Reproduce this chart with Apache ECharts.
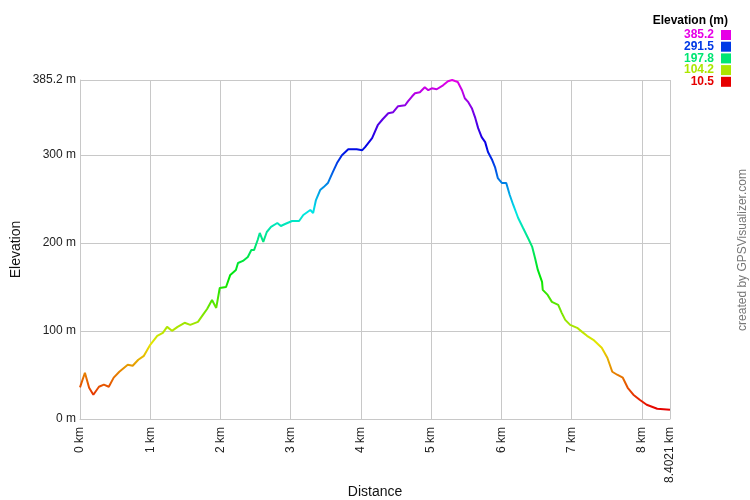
<!DOCTYPE html>
<html>
<head>
<meta charset="utf-8">
<script src="https://cdn.jsdelivr.net/npm/echarts@6/dist/echarts.min.js"></script>
<style>
html,body{margin:0;padding:0;background:#fff;}
#chart{width:750px;height:500px;}
</style>
</head>
<body>
<div id="chart"></div>
<script>
// Distance along track (km)
const distanceKm = [0.00,0.07,0.13,0.19,0.27,0.34,0.41,0.48,0.56,0.68,0.75,0.83,0.91,1.00,1.10,1.18,1.24,1.31,1.39,1.49,1.57,1.68,1.75,1.81,1.88,1.94,1.99,2.08,2.14,2.22,2.25,2.32,2.39,2.44,2.48,2.53,2.56,2.61,2.66,2.72,2.81,2.86,2.92,3.02,3.12,3.18,3.28,3.32,3.36,3.42,3.47,3.53,3.60,3.66,3.73,3.82,3.94,4.02,4.06,4.16,4.24,4.31,4.39,4.46,4.53,4.63,4.67,4.73,4.77,4.84,4.91,4.96,5.01,5.08,5.17,5.24,5.30,5.34,5.38,5.44,5.48,5.53,5.58,5.63,5.67,5.72,5.77,5.81,5.87,5.91,5.95,6.01,6.07,6.12,6.17,6.24,6.31,6.38,6.44,6.48,6.52,6.58,6.59,6.66,6.72,6.81,6.86,6.91,6.98,7.08,7.15,7.22,7.31,7.43,7.51,7.58,7.65,7.73,7.80,7.88,7.97,8.07,8.22,8.4021];
// Elevation (m)
const elevationM = [36,52.6,35.5,27.6,36.7,39,36.7,47,53.7,61.6,60.5,67.3,71.8,84.3,94.5,97.9,104.7,100.2,104.7,109.3,107,110.4,118.3,125,135.3,126.2,148.9,150,163.7,169.4,177.3,179.6,184.1,192.1,192.1,203.4,211.4,201.2,212.5,218.2,222.7,219.3,221.6,225,225,231.8,237.5,234.1,248.8,260.1,263.5,268.1,280.5,290.8,299.8,306.6,306.6,305.5,308.9,319.1,333.8,340.6,347.4,348.6,355.4,356.5,361,366.7,370.1,371.3,377,373.6,375.8,374.7,379.2,383.8,385.2,384,382.9,373.6,364.5,360,353.2,341.8,330.5,320.3,314.6,303.3,294.2,286.3,273.8,268.1,268.1,254.5,243.2,228.4,217,205.7,195.5,183,169.4,155.8,146.7,141,133.1,129.7,120.6,112.6,107,103.6,99,94.5,90,80.9,69.6,53.7,50.3,46.9,35.5,27.6,21.9,16.2,11.7,10.5];
// Legend (colour key) labels
const legendLabels = ['385.2','291.5','197.8','104.2','10.5'];
const legendColors = ['#e600e6','#0039e6','#00e673','#ace600','#e60000'];
const elevMin = 10.5, elevMax = 385.2, distMax = 8.4021;

const chart = echarts.init(document.getElementById('chart'), null, {renderer:'canvas'});
const font = 'Arial, "Liberation Sans", sans-serif';

const graphics = [
  {type:'text', right: 750-728, top: 15, style:{text:'Elevation (m)', font:'bold 12px ' + font, fill:'#000', textAlign:'right'}}
];
legendLabels.forEach((lab, i) => {
  const cy = 35 + i * 11.7;
  graphics.push({type:'text', x: 714, y: cy, style:{text: lab, font:'bold 12px ' + font, fill: legendColors[i], textAlign:'right', textVerticalAlign:'middle'}});
  graphics.push({type:'rect', shape:{x:721, y:cy-5, width:10, height:10}, style:{fill: legendColors[i]}});
});
graphics.push({type:'text', x: 743, y: 250, rotation: Math.PI/2, style:{text:'created by GPSVisualizer.com', font:'12px ' + font, fill:'#777', textAlign:'center', textVerticalAlign:'middle'}});

chart.setOption({
  animation:false,
  backgroundColor:'#fff',
  grid:{left:80, right:80, top:80, bottom:81, containLabel:false, outerBoundsMode:'none'},
  xAxis:{
    type:'value', min:0, max:distMax, interval:1,
    axisLine:{lineStyle:{color:'#c8c8c8'}},
    axisTick:{show:false},
    splitLine:{show:true, lineStyle:{color:'#c8c8c8', width:1}},
    axisLabel:{rotate:90, margin:8, fontSize:12, color:'#222', fontFamily:font,
      formatter: v => v + ' km'},
    name:'Distance', nameLocation:'middle', nameGap:66, nameMoveOverlap:false,
    nameTextStyle:{fontSize:14, color:'#111', fontFamily:font}
  },
  yAxis:{
    type:'value', min:0, max:elevMax, interval:100,
    axisLine:{show:true, lineStyle:{color:'#c8c8c8'}},
    axisTick:{show:false},
    splitLine:{show:true, lineStyle:{color:'#c8c8c8', width:1}},
    axisLabel:{margin:4, fontSize:12, color:'#222', fontFamily:font,
      formatter: v => v + ' m'},
    name:'Elevation', nameLocation:'middle', nameGap:57, nameMoveOverlap:false,
    nameTextStyle:{fontSize:14, color:'#111', fontFamily:font}
  },
  visualMap:{
    show:false, type:'continuous', dimension:1, min:elevMin, max:elevMax, seriesIndex:0,
    inRange:{color:['#e60000','#e67300','#e6e600','#73e600','#00e600','#00e673','#00e6e6','#0073e6','#0000e6','#7300e6','#e600e6']}
  },
  series:[{
    type:'line', showSymbol:false, symbol:'none',
    data: distanceKm.map((d,i)=>[d, elevationM[i]]),
    lineStyle:{width:2}
  }],
  graphic: graphics
});
</script>
</body>
</html>
